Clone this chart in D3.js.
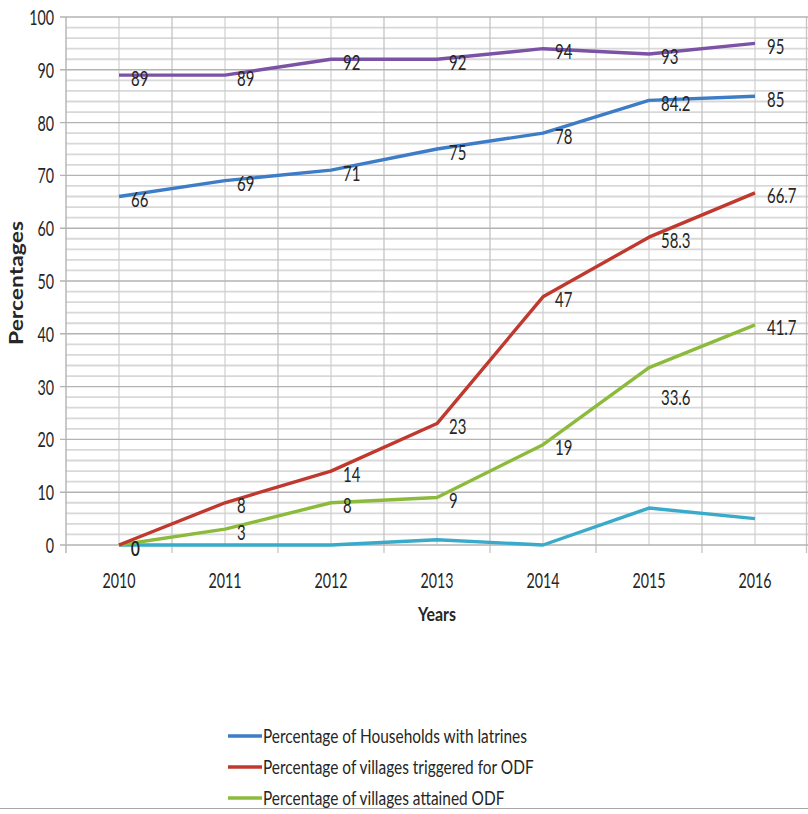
<!DOCTYPE html>
<html>
<head>
<meta charset="utf-8">
<script src="https://cdn.jsdelivr.net/npm/d3@7"></script>
<style>
  html, body { margin: 0; padding: 0; background: #fff; }
  svg text { font-family: Lato, "Open Sans", sans-serif; fill: #262626; }
</style>
</head>
<body>
<svg id="chart" width="808" height="814"></svg>
<script>
// Years on the category axis
const years = ["2010", "2011", "2012", "2013", "2014", "2015", "2016"];

// Series values (percent)
const latrines = [66, 69, 71, 75, 78, 84.2, 85];
const triggered = [0, 8, 14, 23, 47, 58.3, 66.7];
const attained = [0, 3, 8, 9, 19, 33.6, 41.7];
const extraTop = [89, 89, 92, 92, 94, 93, 95];
const extraLow = [0, 0, 0, 1, 0, 7, 5];

const yTicks = [0, 10, 20, 30, 40, 50, 60, 70, 80, 90, 100];

const series = [
  { key: "latrines", name: "Percentage of Households with latrines", values: latrines, color: "#3d7cc6", labels: true, legend: true },
  { key: "triggered", name: "Percentage of villages triggered for ODF", values: triggered, color: "#c0392f", labels: true, legend: true },
  { key: "attained", name: "Percentage of villages attained ODF", values: attained, color: "#8cbb3c", labels: true, legend: true },
  { key: "top", name: "series4", values: extraTop, color: "#7b52a6", labels: true, legend: false },
  { key: "low", name: "series5", values: extraLow, color: "#3aaacb", labels: false, legend: false }
];

const svg = d3.select("#chart");
const W = 808;
const plot = { left: 66, right: 808, top: 17, bottom: 545 };

// narrow glyphs: horizontal squeeze applied to all horizontal text
const SQ = 0.68;

const x = d3.scaleBand().domain(years).range([plot.left, plot.right]).padding(0);
const y = d3.scaleLinear().domain([0, 100]).range([plot.bottom, plot.top]);
const cx = d => x(d) + x.bandwidth() / 2;

const g = svg.append("g");

// minor horizontal gridlines every 2 units
g.append("g").selectAll("line")
  .data(d3.range(2, 100, 2).filter(v => v % 10 !== 0))
  .join("line")
  .attr("x1", plot.left).attr("x2", plot.right)
  .attr("y1", d => y(d)).attr("y2", d => y(d))
  .attr("stroke", "#d8d8d8").attr("stroke-width", 1.8);

// vertical gridlines at category centres
g.append("g").selectAll("line")
  .data(years)
  .join("line")
  .attr("x1", d => cx(d)).attr("x2", d => cx(d))
  .attr("y1", plot.top).attr("y2", plot.bottom)
  .attr("stroke", "#cfcfcf").attr("stroke-width", 1.2);

// category boundaries, with tick marks below the baseline
const bounds = years.slice(1).map(d => x(d)).concat([plot.right - 1.5]);
g.append("g").selectAll("line")
  .data(bounds)
  .join("line")
  .attr("x1", d => d).attr("x2", d => d)
  .attr("y1", plot.top).attr("y2", plot.bottom + 8)
  .attr("stroke", "#c4c4c4").attr("stroke-width", 1.3);

// major horizontal gridlines
g.append("g").selectAll("line")
  .data(yTicks)
  .join("line")
  .attr("x1", plot.left - 6).attr("x2", plot.right)
  .attr("y1", d => y(d)).attr("y2", d => y(d))
  .attr("stroke", "#b3b3b3").attr("stroke-width", 1.4);

// y axis line
g.append("line")
  .attr("x1", plot.left).attr("x2", plot.left)
  .attr("y1", plot.top).attr("y2", plot.bottom + 8)
  .attr("stroke", "#b3b3b3").attr("stroke-width", 1.4);

// y tick labels
const yAxis = d3.axisLeft(y).tickValues(yTicks).tickSize(0).tickPadding(0);
const ya = g.append("g").attr("transform", `translate(${plot.left - 12},0)`).call(yAxis);
ya.select(".domain").remove();
ya.selectAll("text")
  .attr("font-size", 21).attr("font-family", null).attr("fill", "#333")
  .attr("x", 0).attr("dy", "0.36em")
  .attr("transform", `scale(${SQ},1)`);

// x tick labels
const xAxis = d3.axisBottom(x).tickSize(0).tickPadding(0);
const xa = g.append("g").attr("transform", `translate(0,${plot.bottom})`).call(xAxis);
xa.select(".domain").remove();
xa.selectAll("text")
  .attr("font-size", 21).attr("font-family", null).attr("fill", "#333")
  .attr("y", 43).attr("dy", null)
  .attr("transform", `scale(${SQ},1)`);

// stretch a text element so that it spans a given length
function fit(sel, len) {
  const n = sel.node().getComputedTextLength();
  return len / n;
}

// axis titles
const yt = svg.append("text")
  .attr("text-anchor", "middle")
  .attr("font-weight", "bold").attr("font-size", 18)
  .text("Percentages");
yt.attr("transform", `translate(23,283) rotate(-90) scale(${fit(yt, 124)},1)`);

const xt = svg.append("text")
  .attr("text-anchor", "middle")
  .attr("font-weight", "bold").attr("font-size", 18)
  .text("Years");
xt.attr("transform", `translate(${cx("2013")},621) scale(${fit(xt, 38)},1)`);

// lines
const line = d3.line()
  .x((d, i) => cx(years[i]))
  .y(d => y(d));

[4, 2, 1, 0, 3].forEach(k => {
  const s = series[k];
  svg.append("path")
    .datum(s.values)
    .attr("d", line)
    .attr("fill", "none")
    .attr("stroke", s.color)
    .attr("stroke-width", 3.4)
    .attr("stroke-linejoin", "round");
});

// value labels, placed right of each point
const labelShift = { "attained-5": 27 };
series.filter(s => s.labels).forEach(s => {
  svg.append("g").selectAll("text")
    .data(s.values)
    .join("text")
    .attr("transform", (d, i) =>
      `translate(${cx(years[i]) + 12},${y(d) + 10.5 + (labelShift[s.key + "-" + i] || 0)}) scale(${SQ},1)`)
    .attr("font-size", 22)
    .text(d => d);
});

// legend
const legendItems = series.filter(s => s.legend);
const lg = svg.append("g").attr("transform", "translate(228,736)");
let legendSq = null;
legendItems.forEach((s, i) => {
  const row = lg.append("g").attr("transform", `translate(0,${i * 31})`);
  row.append("line").attr("x1", 0).attr("x2", 34).attr("y1", 0).attr("y2", 0)
    .attr("stroke", s.color).attr("stroke-width", 3.4);
  const t = row.append("text").attr("font-size", 19).text(s.name);
  if (legendSq === null) legendSq = fit(t, 264);
  t.attr("transform", `translate(35,6.8) scale(${legendSq},1)`);
});

// bottom border
svg.append("line")
  .attr("x1", 0).attr("x2", W).attr("y1", 808.5).attr("y2", 808.5)
  .attr("stroke", "#a8a8a8").attr("stroke-width", 1.2);
</script>
</body>
</html>
